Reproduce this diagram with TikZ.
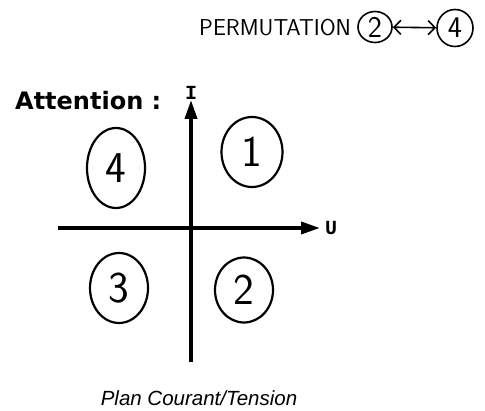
\documentclass[tikz,border=0pt]{standalone}
\usepackage{fontspec}
\usepackage{tikz}
\usetikzlibrary{arrows.meta,positioning,shapes.geometric}
\newfontfamily\headfont{DejaVu Sans}
\newfontfamily\capfont{Liberation Sans}
\newfontfamily\axfont{Liberation Mono}
\definecolor{inkc}{HTML}{000000}
\tikzset{
  axis/.style={-{Triangle[length=19pt,width=12pt]},line width=3.6pt,inkc},
  quad/.style={ellipse,draw=inkc,line width=2.2pt,inner sep=0pt,font=\sffamily\fontsize{44}{44}\selectfont},
  mini/.style={ellipse,draw=inkc,line width=1.6pt,inner sep=0pt,font=\sffamily\fontsize{30}{30}\selectfont},
  axlab/.style={font=\axfont\bfseries\fontsize{20}{20}\selectfont,inner sep=1pt},
  swap/.style={{Straight Barb[length=7pt,width=14pt]}-{Straight Barb[length=7pt,width=14pt]},line width=1.6pt,inkc}
}
\begin{document}
\begin{tikzpicture}[x=1pt,y=-1pt]
\useasboundingbox (0,0) rectangle (485,411);
\node[anchor=base west,inner sep=0pt,font=\headfont\bfseries\fontsize{24}{24}\selectfont] (att) at (15,110) {Attention :};
\node[anchor=base west,inner sep=0pt,font=\sffamily\fontsize{23}{23}\selectfont] (perm) at (199,36) {PERMUTATION};
\node[mini,minimum width=34pt,minimum height=31pt] (c2) at (375,27) {2};
\node[mini,minimum width=36pt,minimum height=37pt] (c4) at (455,28) {4};
\draw[swap] (c2) -- (c4);
\coordinate (ybot) at (191,362);
\coordinate (ytop) at (191,100);
\coordinate (xleft) at (58,228);
\coordinate (xright) at (320,228);
\draw[axis] (ybot) -- (ytop);
\draw[axis] (xleft) -- (xright);
\node[axlab,above=-1pt of ytop] (ilab) {I};
\node[axlab,right=4pt of xright] (ulab) {U};
\node[quad,minimum width=61pt,minimum height=70pt] (q1) at (252,152) {1};
\node[quad,minimum width=58pt,minimum height=65pt] (q2) at (244,290) {2};
\node[quad,minimum width=58pt,minimum height=70pt] (q3) at (119,288) {3};
\node[quad,minimum width=58pt,minimum height=80pt] (q4) at (116,168) {4};
\node[anchor=base,inner sep=0pt,font=\capfont\itshape\fontsize{20.5}{20.5}\selectfont] (cap) at (199,406) {Plan Courant/Tension};
\end{tikzpicture}
\end{document}
